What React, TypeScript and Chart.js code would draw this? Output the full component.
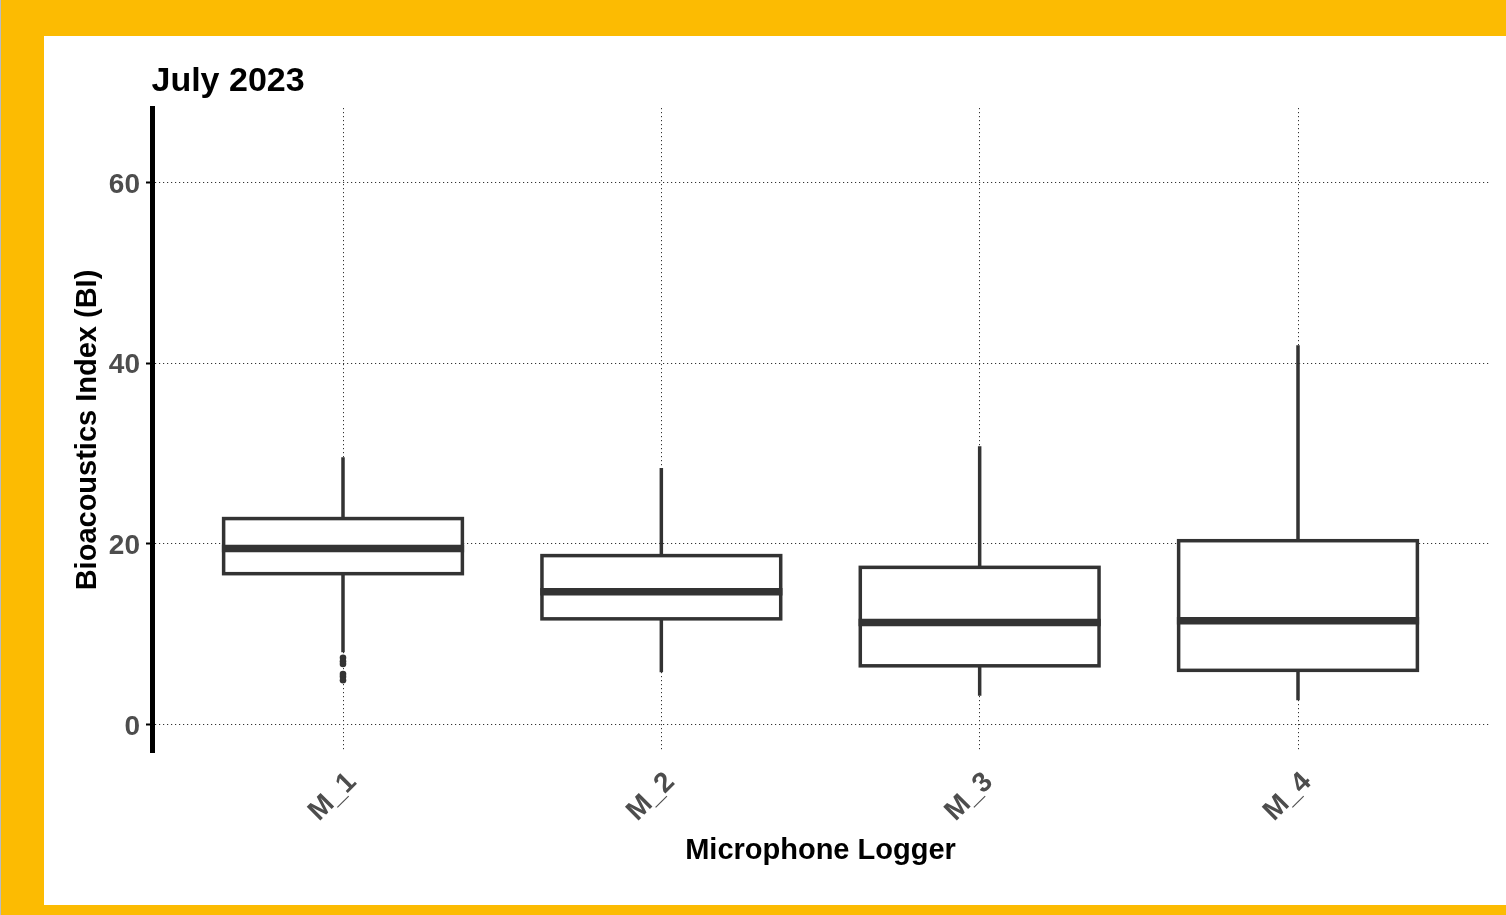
import React, { useEffect, useRef } from "react";
import { Chart, registerables } from "chart.js";

Chart.register(...registerables);

// ---- data ----
const categories = ["M_1", "M_2", "M_3", "M_4"];
const whiskerLow = [8.0, 5.8, 3.2, 2.7];
const q1 = [16.7, 11.7, 6.5, 6.0];
const median = [19.5, 14.7, 11.3, 11.5];
const q3 = [22.8, 18.7, 17.4, 20.35];
const whiskerHigh = [29.6, 28.4, 30.8, 42.0];
const outliersM1 = [7.4, 7.0, 6.7, 5.6, 5.3, 4.9];
const yTicks = [0, 20, 40, 60];
const chartTitle = "July 2023";
const xTitle = "Microphone Logger";
const yTitle = "Bioacoustics Index (BI)";

const FONT = "'Liberation Sans', Arial, Helvetica, sans-serif";
const INK = "#333333";

const boxPlugin = {
  id: "boxes",
  beforeDatasetsDraw(chart: any) {
    const { ctx, scales } = chart;
    const x = scales.x;
    const y = scales.y;
    ctx.save();
    ctx.strokeStyle = INK;
    ctx.lineJoin = "miter";
    ctx.lineCap = "butt";
    categories.forEach((_, i) => {
      const cx = x.getPixelForValue(i + 1);
      const hw = x.getPixelForValue(i + 1 + 0.375) - cx;
      const yLo = y.getPixelForValue(whiskerLow[i]);
      const yQ1 = y.getPixelForValue(q1[i]);
      const yMed = y.getPixelForValue(median[i]);
      const yQ3 = y.getPixelForValue(q3[i]);
      const yHi = y.getPixelForValue(whiskerHigh[i]);
      ctx.lineWidth = 3.5;
      ctx.beginPath();
      ctx.moveTo(cx, yHi);
      ctx.lineTo(cx, yQ3);
      ctx.moveTo(cx, yQ1);
      ctx.lineTo(cx, yLo);
      ctx.stroke();
      ctx.fillStyle = "#ffffff";
      ctx.fillRect(cx - hw, yQ3, 2 * hw, yQ1 - yQ3);
      ctx.strokeRect(cx - hw, yQ3, 2 * hw, yQ1 - yQ3);
      ctx.lineWidth = 7.5;
      ctx.beginPath();
      ctx.moveTo(cx - hw - 1.75, yMed);
      ctx.lineTo(cx + hw + 1.75, yMed);
      ctx.stroke();
    });
    ctx.restore();
  },
};

const titlePlugin = {
  id: "plotTitle",
  afterDraw(chart: any) {
    const { ctx } = chart;
    ctx.save();
    ctx.font = `bold 34px ${FONT}`;
    ctx.fillStyle = "#000000";
    ctx.textAlign = "left";
    ctx.textBaseline = "alphabetic";
    ctx.fillText(chartTitle, 107.5, 55);
    ctx.restore();
  },
};

export default function App() {
  const canvasRef = useRef<HTMLCanvasElement | null>(null);

  useEffect(() => {
    if (!canvasRef.current) return;
    const chart = new Chart(canvasRef.current, {
      type: "scatter",
      data: {
        datasets: [
          {
            label: "outliers",
            data: outliersM1.map((v) => ({ x: 1, y: v })),
            pointRadius: 3.3,
            pointHoverRadius: 3.3,
            backgroundColor: INK,
            borderWidth: 0,
          },
        ],
      },
      options: {
        responsive: false,
        animation: false,
        events: [],
        layout: { padding: { left: 0, right: 17, top: 72, bottom: 0 } },
        plugins: {
          legend: { display: false },
          tooltip: { enabled: false },
          title: { display: false },
        },
        scales: {
          x: {
            type: "linear",
            min: 0.4,
            max: 4.6,
            afterBuildTicks: (s: any) => {
              s.ticks = categories.map((_, i) => ({ value: i + 1 }));
            },
            afterFit: (s: any) => {
              s.height = 153;
            },
            ticks: {
              autoSkip: false,
              minRotation: 45,
              maxRotation: 45,
              padding: 14,
              labelOffset: 9,
              color: "#4D4D4D",
              font: { family: FONT, size: 28, weight: "bold" },
              callback: (v: any) => categories[Math.round(Number(v)) - 1] ?? "",
            },
            grid: { color: "#333333", lineWidth: 1, drawTicks: false },
            border: { display: false, dash: [1.2, 2.8] },
            title: {
              display: true,
              text: xTitle,
              color: "#000000",
              font: { family: FONT, size: 29, weight: "bold" },
              padding: { top: 0, bottom: 37 },
            },
          },
          y: {
            type: "linear",
            min: -3.04,
            max: 68.25,
            afterBuildTicks: (s: any) => {
              s.ticks = yTicks.map((v) => ({ value: v }));
            },
            afterFit: (s: any) => {
              s.width = 108;
            },
            ticks: {
              padding: 6,
              labelOffset: 2.5,
              color: "#4D4D4D",
              font: { family: FONT, size: 28, weight: "bold" },
            },
            grid: {
              color: "#333333",
              lineWidth: 1,
              drawTicks: true,
              tickLength: 6,
              tickColor: "#000000",
              tickWidth: 2,
            },
            border: { display: true, color: "#000000", width: 5, dash: [1.2, 2.8] },
            title: {
              display: true,
              text: yTitle,
              color: "#000000",
              font: { family: FONT, size: 29, weight: "bold" },
              padding: { top: 27, bottom: 0 },
            },
          },
        },
      },
      plugins: [boxPlugin, titlePlugin],
    } as any);
    return () => chart.destroy();
  }, []);

  return (
    <div
      style={{
        position: "fixed",
        left: 0,
        top: 0,
        width: 1506,
        height: 915,
        boxSizing: "border-box",
        background: "#FCBB02",
        borderLeft: "1px solid #B9BCC4",
      }}
    >
      <div
        style={{
          position: "absolute",
          left: 43,
          top: 36,
          width: 1462,
          height: 869,
          background: "#ffffff",
        }}
      >
        <canvas ref={canvasRef} width={1462} height={869} style={{ display: "block" }} />
      </div>
    </div>
  );
}
